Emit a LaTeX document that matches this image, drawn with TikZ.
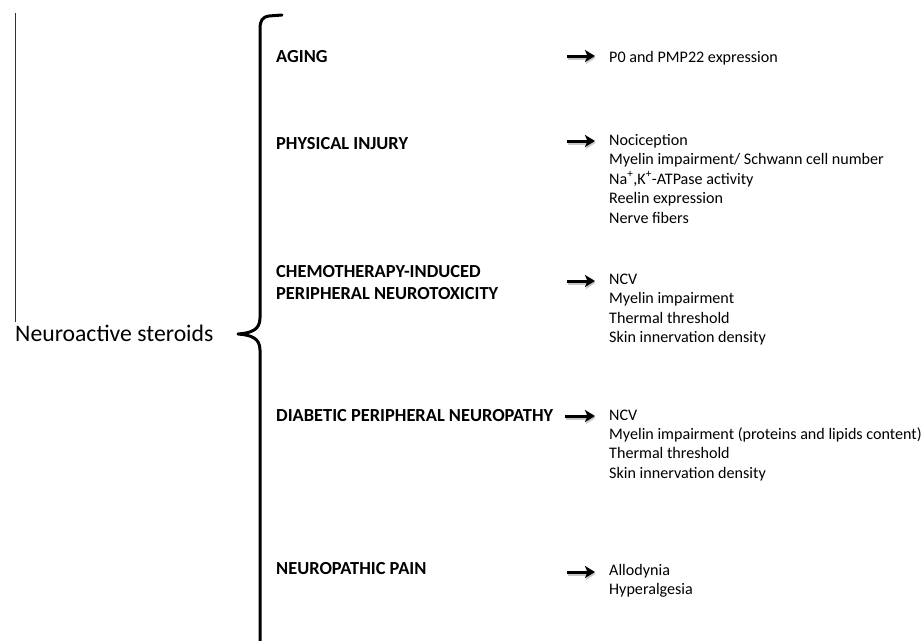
\documentclass[tikz,border=0pt]{standalone}
\usepackage{fontspec}
\setmainfont{Carlito}
\usetikzlibrary{arrows.meta}
\tikzset{
  cat/.style={font=\fontsize{18.4}{22}\selectfont\bfseries, anchor=base west, inner sep=0pt},
  item/.style={font=\fontsize{16.1}{19.5}\selectfont, anchor=base west, inner sep=0pt},
  title/.style={font=\fontsize{23.7}{28}\selectfont, anchor=base west, inner sep=0pt},
  bigarrow/.style={line width=3pt, -{Stealth[length=10pt,width=12pt,inset=2.5pt]}},
  shadowarrow/.style={line width=3.4pt, black!22, -{Stealth[length=10pt,width=13pt,inset=2.5pt]}},
  bracepath/.style={line width=3pt, line cap=round, line join=round},
  thinline/.style={line width=0.9pt, black!80},
}
\begin{document}
\begin{tikzpicture}[x=1pt,y=-1pt]
\useasboundingbox (0,0) rectangle (923,640);

% left thin line and title
\coordinate (lt) at (15,13);
\coordinate (lb) at (15,322);
\draw[thinline] (lt) -- (lb);
\node[title] (ns) at (15,341) {Neuroactive steroids};

% brace
\coordinate (btop) at (282,15);
\coordinate (tip) at (238,334);
\coordinate (bbot) at (260,650);
\draw[bracepath] (btop) -- (269,16) .. controls (262,17) and (260,21) .. (260,29)
  -- (260,318) .. controls (260,330) and (251,333) .. (tip)
  .. controls (251,335) and (260,338) .. (260,350) -- (bbot);

% categories
\node[cat] (c1) at (276,62) {AGING};
\node[cat] (c2) at (276,149) {PHYSICAL INJURY};
\node[cat] (c3a) at (276,277) {CHEMOTHERAPY-INDUCED};
\node[cat] (c3b) at (276,299) {PERIPHERAL NEUROTOXICITY};
\node[cat] (c4) at (276,421) {DIABETIC PERIPHERAL NEUROPATHY};
\node[cat] (c5) at (276,574) {NEUROPATHIC PAIN};

% effects
\node[item] (e1) at (609,62) {P0 and PMP22 expression};

\node[item] (e2a) at (609,145) {Nociception};
\node[item] (e2b) at (609,164.5) {Myelin impairment/ Schwann cell number};
\node[item] (e2c) at (609,184) {Na\textsuperscript{+},K\textsuperscript{+}-ATPase activity};
\node[item] (e2d) at (609,203.5) {Reelin expression};
\node[item] (e2e) at (609,223) {Nerve fibers};

\node[item] (e3a) at (609,284) {NCV};
\node[item] (e3b) at (609,303.5) {Myelin impairment};
\node[item] (e3c) at (609,323) {Thermal threshold};
\node[item] (e3d) at (609,342.5) {Skin innervation density};

\node[item] (e4a) at (609,420) {NCV};
\node[item] (e4b) at (609,439) {Myelin impairment (proteins and lipids content)};
\node[item] (e4c) at (609,458.5) {Thermal threshold};
\node[item] (e4d) at (609,478) {Skin innervation density};

\node[item] (e5a) at (609,575) {Allodynia};
\node[item] (e5b) at (609,594.5) {Hyperalgesia};

% arrows
\coordinate (s1) at (567,56);   \coordinate (t1) at (595,56);
\coordinate (s2) at (567,141);  \coordinate (t2) at (595,141);
\coordinate (s3) at (567,281);  \coordinate (t3) at (595,281);
\coordinate (s4) at (565,416);  \coordinate (t4) at (595,416);
\coordinate (s5) at (567,572);  \coordinate (t5) at (595,572);
\foreach \i in {1,...,5} {
  \draw[shadowarrow] ([shift={(0.6,1.8)}]s\i) -- ([shift={(0.6,1.8)}]t\i);
  \draw[bigarrow] (s\i) -- (t\i);
}
\end{tikzpicture}
\end{document}
